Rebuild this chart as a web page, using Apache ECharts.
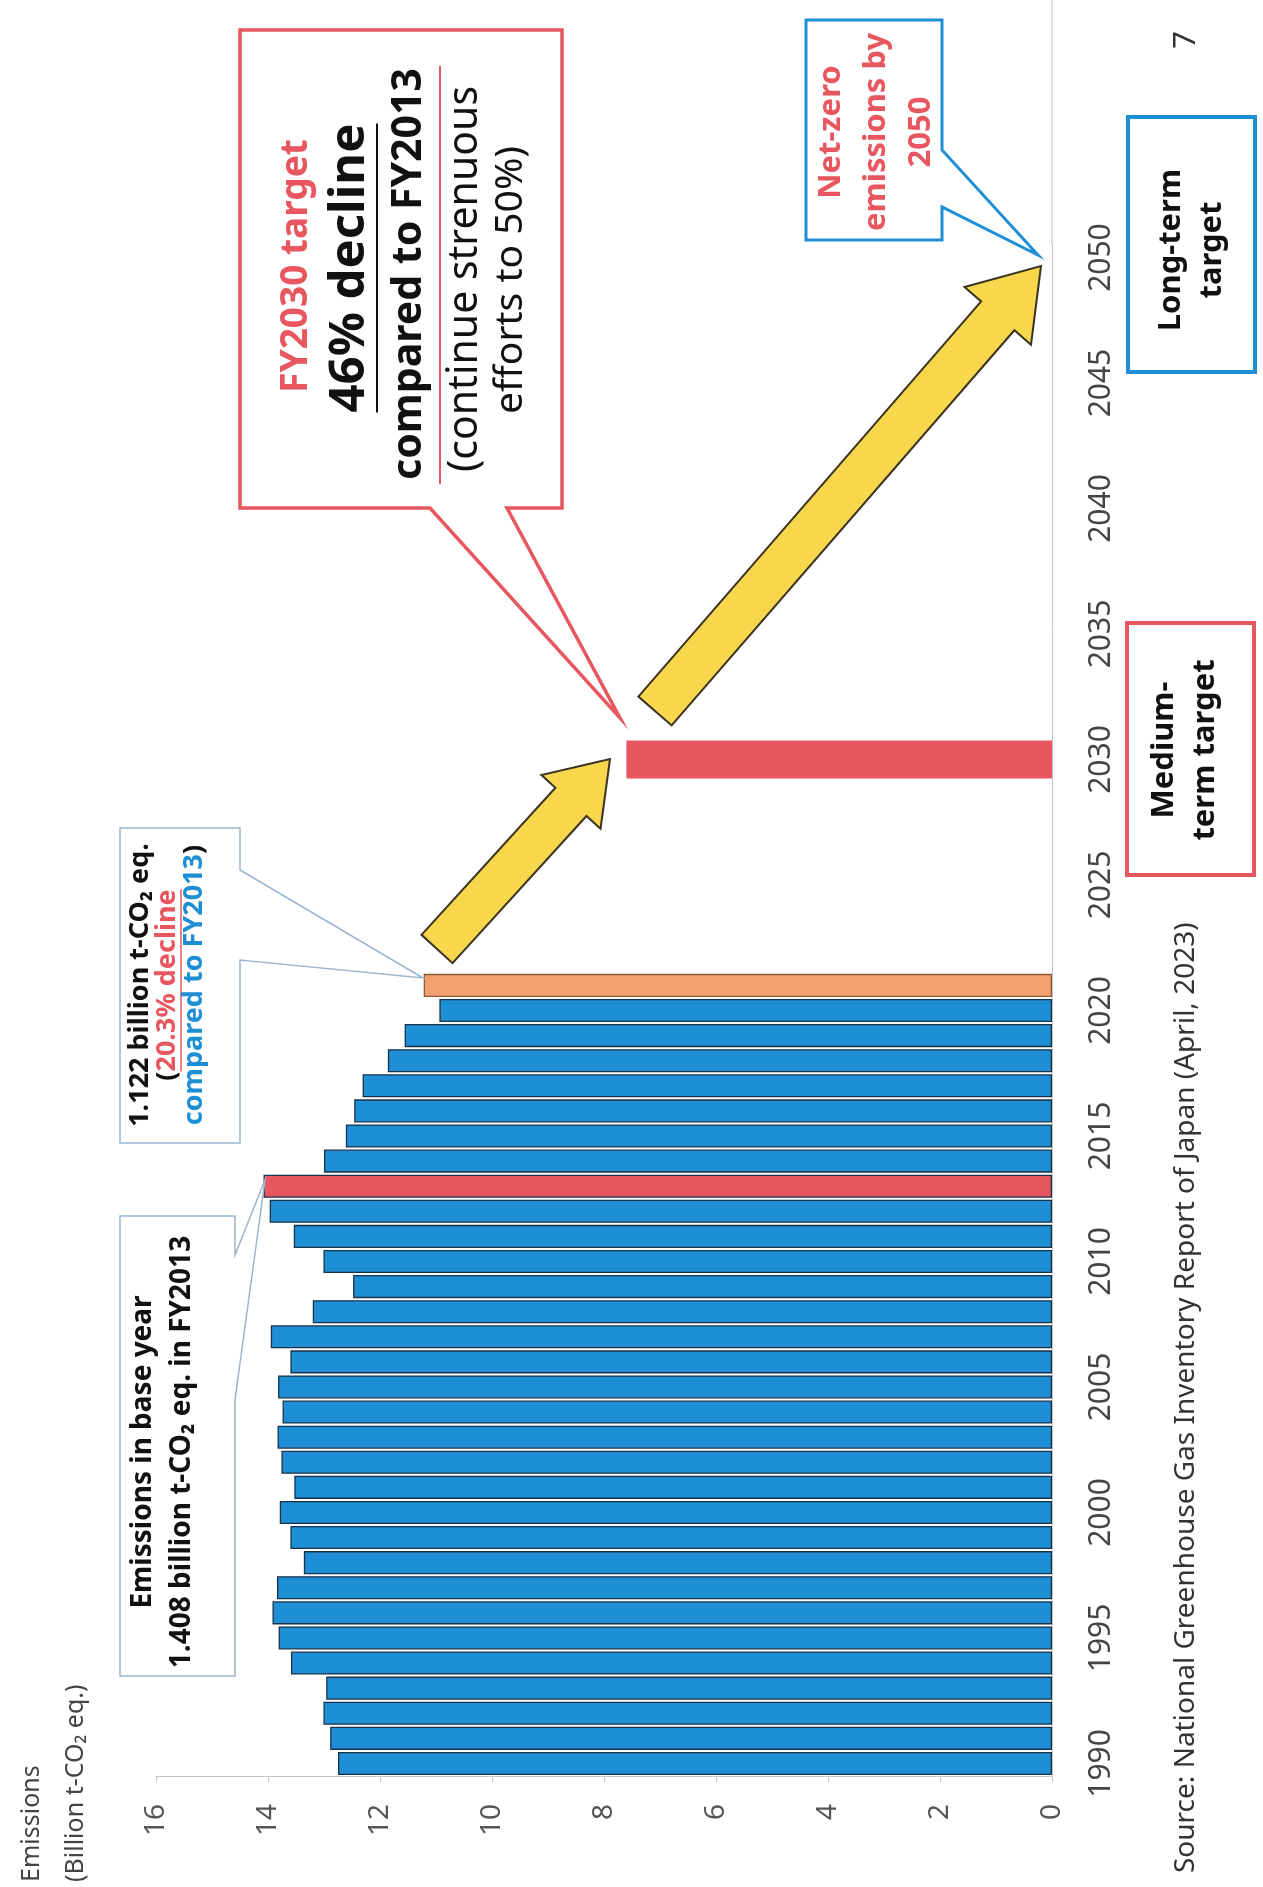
<!DOCTYPE html>
<html>
<head>
<meta charset="utf-8">
<title>GHG emissions – Japan</title>
<script src="https://cdn.jsdelivr.net/npm/echarts@6/dist/echarts.min.js"></script>
<style>
  html, body { margin: 0; padding: 0; background: #fff; }
  #chart { width: 1263px; height: 1887px; }
</style>
</head>
<body>
<div id="chart"></div>
<script>
// fiscal years on the category axis
var years = [];
for (var y = 1990; y <= 2050; y++) years.push(String(y));

// emissions FY1990 - FY2021 (axis unit: 100 million t-CO2 eq.)
var emissions = [12.75, 12.89, 13.01, 12.96, 13.59, 13.81, 13.92, 13.84, 13.36, 13.60,
                 13.79, 13.53, 13.76, 13.83, 13.74, 13.82, 13.60, 13.95, 13.20, 12.48,
                 13.01, 13.54, 13.97, 14.08, 13.00, 12.61, 12.46, 12.31, 11.86, 11.56,
                 10.94, 11.22];
var baseYear = '2013';
var latestYear = '2021';
var target = [[7.60, '2030']];

var BLUE = '#1e8fd5', RED = '#e8565f', ORANGE = '#f2a06e', YELLOW = '#f8d74c';
var FONT = '"Noto Sans", "DejaVu Sans", sans-serif';

var ctx = document.createElement('canvas').getContext('2d');
function measure(str, font) { ctx.font = font; return ctx.measureText(str).width; }

// rotated text (reads bottom to top)
function txt(x, y, text, font, color, align) {
  return { type: 'text', x: x, y: y, rotation: Math.PI / 2, z: 100,
    style: { text: text, font: font, fill: color, align: align || 'center', verticalAlign: 'middle' } };
}
function poly(points, stroke, lw, fill) {
  return { type: 'polygon', z: 90, shape: { points: points }, style: { fill: fill, stroke: stroke, lineWidth: lw } };
}
function line(x1, y1, x2, y2, color, w) {
  return { type: 'line', z: 95, shape: { x1: x1, y1: y1, x2: x2, y2: y2 }, style: { stroke: color, lineWidth: w } };
}
function arrow(tail, tip, shaft, headW, headL) {
  var dx = tip[0] - tail[0], dy = tip[1] - tail[1];
  var len = Math.sqrt(dx * dx + dy * dy);
  var ux = dx / len, uy = dy / len, px = -uy, py = ux;
  var bx = tip[0] - ux * headL, by = tip[1] - uy * headL;
  var s = shaft / 2, h = headW / 2;
  return poly([
    [tail[0] + px * s, tail[1] + py * s],
    [bx + px * s, by + py * s],
    [bx + px * h, by + py * h],
    tip,
    [bx - px * h, by - py * h],
    [bx - px * s, by - py * s],
    [tail[0] - px * s, tail[1] - py * s]
  ], '#3a3320', 2, YELLOW);
}

var barData = emissions.map(function (v, i) {
  var item = { value: v };
  if (years[i] === baseYear) item.itemStyle = { color: RED };
  if (years[i] === latestYear) item.itemStyle = { color: ORANGE, borderColor: '#8a5a3a' };
  return item;
});

var graphics = [];
// axis line extension above 2050
graphics.push(line(1052, 0, 1052, 245, '#c4c4c4', 1));

// axis name
graphics.push(txt(32, 1882, 'Emissions', '25px ' + FONT, '#444', 'left'));
graphics.push(txt(76, 1882, '(Billion t-CO\u2082 eq.)', '25px ' + FONT, '#444', 'left'));

// base year callout
graphics.push(poly([[120, 1216], [235, 1216], [235, 1255], [265, 1180], [235, 1400], [235, 1676], [120, 1676]],
  '#9ab6cf', 1.5, '#fff'));
var f1 = 'bold 28px ' + FONT;
graphics.push(txt(143, 1452, 'Emissions in base year', f1, '#111'));
graphics.push(txt(182, 1452, '1.408 billion t-CO\u2082 eq. in FY2013', f1, '#111'));

// FY2021 callout
graphics.push(poly([[120, 828], [240, 828], [240, 870], [423, 978], [240, 960], [240, 1143], [120, 1143]],
  '#9ab6cf', 1.5, '#fff'));
var f2 = 'bold 27px ' + FONT;
graphics.push(txt(140, 985, '1.122 billion t-CO\u2082 eq.', f2, '#111'));
graphics.push({ type: 'text', x: 167, y: 985, rotation: Math.PI / 2, z: 100,
  style: { text: '{k|(}{r|20.3% decline}', align: 'center', verticalAlign: 'middle',
    rich: { k: { font: f2, fill: '#111' }, r: { font: f2, fill: RED } } } });
graphics.push({ type: 'text', x: 194, y: 985, rotation: Math.PI / 2, z: 100,
  style: { text: '{b|compared to FY2013}{k|)}', align: 'center', verticalAlign: 'middle',
    rich: { k: { font: f2, fill: '#111' }, b: { font: f2, fill: BLUE } } } });
(function () {
  var w = measure('(20.3% decline', f2), w0 = measure('(', f2);
  graphics.push(line(181, 985 + w / 2 - w0, 181, 985 - w / 2, RED, 1.5));
})();

// FY2030 target callout
graphics.push(poly([[240, 30], [562, 30], [562, 508], [507, 508], [620, 718], [430, 508], [240, 508]],
  RED, 3.5, '#fff'));
graphics.push(txt(296, 266, 'FY2030 target', 'bold 37px ' + FONT, RED));
var fBig = 'bold 49px ' + FONT;
graphics.push(txt(350, 268, '46% decline', fBig, '#111'));
(function () {
  var w = measure('46% decline', fBig);
  graphics.push(line(377, 268 - w / 2, 377, 268 + w / 2, '#111', 2));
})();
graphics.push(txt(409, 274, 'compared to FY2013', 'bold 41px ' + FONT, '#111'));
graphics.push(line(440, 66, 440, 484, RED, 2));
graphics.push(txt(465, 279, '(continue strenuous', '41px ' + FONT, '#111'));
graphics.push(txt(511, 280, 'efforts to 50%)', '39px ' + FONT, '#111'));

// net-zero callout
graphics.push(poly([[806, 20], [942, 20], [942, 150], [1038, 255], [942, 207], [942, 240], [806, 240]],
  BLUE, 3, '#fff'));
var fNz = 'bold 31px ' + FONT;
graphics.push(txt(831, 132, 'Net-zero', fNz, RED));
graphics.push(txt(876, 132, 'emissions by', fNz, RED));
graphics.push(txt(921, 132, '2050', fNz, RED));

// arrows
graphics.push(arrow([437, 949], [610, 759], 42, 80, 58));
graphics.push(arrow([655, 711], [1041, 266], 44, 88, 66));

// medium / long term boxes
graphics.push({ type: 'rect', z: 90, shape: { x: 1127, y: 623, width: 127, height: 252 },
  style: { fill: '#fff', stroke: RED, lineWidth: 4 } });
graphics.push(txt(1164, 750, 'Medium-', 'bold 31px ' + FONT, '#111'));
graphics.push(txt(1205, 750, 'term target', 'bold 31px ' + FONT, '#111'));
graphics.push({ type: 'rect', z: 90, shape: { x: 1128, y: 117, width: 127, height: 255 },
  style: { fill: '#fff', stroke: BLUE, lineWidth: 4 } });
graphics.push(txt(1171, 250, 'Long-term', 'bold 31px ' + FONT, '#111'));
graphics.push(txt(1212, 250, 'target', 'bold 31px ' + FONT, '#111'));

// source and page number
graphics.push(txt(1186, 1873, 'Source: National Greenhouse Gas Inventory Report of Japan (April, 2023)',
  '28px ' + FONT, '#333', 'left'));
graphics.push(txt(1186, 40, '7', '31px ' + FONT, '#333'));

var chart = echarts.init(document.getElementById('chart'));
chart.setOption({
  animation: false,
  backgroundColor: '#fff',
  textStyle: { fontFamily: FONT },
  grid: { left: 156, right: 211, top: 245, bottom: 111, containLabel: false },
  xAxis: {
    type: 'value',
    min: 0,
    max: 16,
    interval: 2,
    inverse: true,
    splitLine: { show: false },
    axisLine: { show: true, lineStyle: { color: '#c4c4c4' } },
    axisTick: { show: true, length: 6, lineStyle: { color: '#c4c4c4' } },
    axisLabel: { rotate: 90, margin: 28, fontSize: 28, color: '#555' }
  },
  yAxis: {
    type: 'category',
    position: 'right',
    data: years,
    axisLine: { show: true, lineStyle: { color: '#c4c4c4' } },
    axisTick: { show: false },
    axisLabel: { interval: 4, rotate: 90, margin: 34, fontSize: 30, color: '#444' }
  },
  series: [
    {
      type: 'bar',
      data: barData,
      barCategoryGap: '8%',
      itemStyle: { color: BLUE, borderColor: '#18324a', borderWidth: 1.3 }
    },
    {
      type: 'custom',
      data: target,
      encode: { x: 0, y: 1 },
      renderItem: function (params, api) {
        var cat = api.value(1);
        var end = api.coord([api.value(0), cat]);
        var start = api.coord([0, cat]);
        var h = api.size([0, 1])[1] * 1.52;
        return {
          type: 'rect',
          shape: { x: Math.min(end[0], start[0]), y: end[1] - h / 2, width: Math.abs(start[0] - end[0]), height: h },
          style: { fill: RED }
        };
      }
    }
  ],
  graphic: graphics
});
</script>
</body>
</html>
